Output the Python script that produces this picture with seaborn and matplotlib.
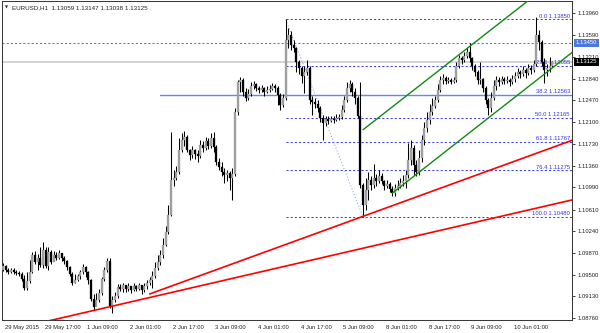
import numpy as np
import pandas as pd
import matplotlib
matplotlib.use("Agg")
import matplotlib.pyplot as plt
import matplotlib.transforms as mtransforms
import seaborn as sns

# ---------------- data ----------------
symbol_header = "EURUSD,H1  1.13059 1.13147 1.13038 1.13125"
first_open = 1.0958
closes = [
    1.0964, 1.0958, 1.0954, 1.0958, 1.0954, 1.0953, 1.0951, 1.0942, 1.0927, 1.0939,
    1.0954, 1.0983, 1.0971, 1.0978, 1.0966, 1.0992, 1.0964, 1.0988, 1.0971, 1.0983,
    1.0978, 1.0987, 1.0978, 1.0973, 1.0963, 1.0951, 1.0935, 1.0941, 1.0947, 1.0954,
    1.0963, 1.0954, 1.0941, 1.0908, 1.0894, 1.0907, 1.0918, 1.0942, 1.0958, 1.0973,
    1.0896, 1.0907, 1.0913, 1.0929, 1.0925, 1.0932, 1.0925, 1.0930, 1.0924, 1.0930,
    1.0925, 1.0932, 1.0924, 1.0930, 1.0935, 1.0941, 1.0947, 1.0961, 1.0971, 1.0983,
    1.1000, 1.1022, 1.1051, 1.1111, 1.1115, 1.1125, 1.1162, 1.1179, 1.1184, 1.1162,
    1.1154, 1.1162, 1.1155, 1.1152, 1.1171, 1.1166, 1.1178, 1.1169, 1.1183, 1.1168,
    1.1142, 1.1133, 1.1125, 1.1120, 1.1123, 1.1115, 1.1121, 1.1227, 1.1278, 1.1282,
    1.1261, 1.1251, 1.1258, 1.1271, 1.1275, 1.1268, 1.1265, 1.1268, 1.1261, 1.1265,
    1.1266, 1.1271, 1.1268, 1.1256, 1.1239, 1.1251, 1.1350, 1.1358, 1.1341, 1.1336,
    1.1312, 1.1302, 1.1288, 1.1295, 1.1302, 1.1248, 1.1244, 1.1241, 1.1234, 1.1217,
    1.1208, 1.1215, 1.1212, 1.1215, 1.1213, 1.1217, 1.1219, 1.1230, 1.1248, 1.1268,
    1.1275, 1.1261, 1.1251, 1.1220, 1.1103, 1.1069, 1.1094, 1.1111, 1.1103, 1.1115,
    1.1109, 1.1118, 1.1109, 1.1101, 1.1104, 1.1096, 1.1089, 1.1098, 1.1101, 1.1106,
    1.1109, 1.1120, 1.1145, 1.1166, 1.1137, 1.1125, 1.1149, 1.1179, 1.1200, 1.1213,
    1.1227, 1.1237, 1.1248, 1.1265, 1.1282, 1.1285, 1.1280, 1.1282, 1.1278, 1.1282,
    1.1306, 1.1319, 1.1316, 1.1323, 1.1329, 1.1319, 1.1306, 1.1295, 1.1282, 1.1283,
    1.1268, 1.1248, 1.1234, 1.1251, 1.1271, 1.1282, 1.1278, 1.1283, 1.1280, 1.1282,
    1.1278, 1.1283, 1.1288, 1.1295, 1.1292, 1.1299, 1.1294, 1.1302, 1.1299, 1.1309,
    1.1358, 1.1347, 1.1312, 1.1299, 1.1302, 1.1306, 1.13125,
]
highs = [
    1.0970, 1.0966, 1.0961, 1.0961, 1.0961, 1.0958, 1.0956, 1.0954, 1.0949, 1.0954,
    1.0975, 1.0988, 1.0990, 1.0985, 1.0997, 1.1005, 1.0997, 1.0997, 1.0992, 1.0990,
    1.0988, 1.0992, 1.0987, 1.0981, 1.0975, 1.0964, 1.0954, 1.0951, 1.0951, 1.0958,
    1.0968, 1.0964, 1.0956, 1.0942, 1.0917, 1.0918, 1.0925, 1.0946, 1.0963, 1.0978,
    1.0978, 1.0913, 1.0920, 1.0934, 1.0934, 1.0935, 1.0932, 1.0935, 1.0930, 1.0935,
    1.0932, 1.0935, 1.0932, 1.0935, 1.0941, 1.0946, 1.0956, 1.0971, 1.0983, 1.0992,
    1.1012, 1.1033, 1.1069, 1.1193, 1.1128, 1.1135, 1.1183, 1.1191, 1.1195, 1.1188,
    1.1164, 1.1169, 1.1164, 1.1162, 1.1179, 1.1178, 1.1184, 1.1183, 1.1191, 1.1193,
    1.1171, 1.1149, 1.1142, 1.1132, 1.1128, 1.1126, 1.1132, 1.1234, 1.1282, 1.1287,
    1.1285, 1.1268, 1.1266, 1.1278, 1.1280, 1.1277, 1.1271, 1.1273, 1.1270, 1.1271,
    1.1273, 1.1277, 1.1275, 1.1271, 1.1259, 1.1258, 1.1385, 1.1371, 1.1365, 1.1350,
    1.1338, 1.1316, 1.1306, 1.1306, 1.1316, 1.1306, 1.1254, 1.1251, 1.1248, 1.1237,
    1.1222, 1.1220, 1.1220, 1.1220, 1.1220, 1.1224, 1.1224, 1.1239, 1.1254, 1.1278,
    1.1282, 1.1278, 1.1268, 1.1254, 1.1278, 1.1106, 1.1115, 1.1125, 1.1118, 1.1138,
    1.1121, 1.1128, 1.1123, 1.1111, 1.1111, 1.1108, 1.1101, 1.1104, 1.1111, 1.1115,
    1.1120, 1.1128, 1.1174, 1.1179, 1.1171, 1.1145, 1.1162, 1.1188, 1.1210, 1.1227,
    1.1241, 1.1251, 1.1254, 1.1275, 1.1288, 1.1292, 1.1288, 1.1287, 1.1285, 1.1287,
    1.1312, 1.1324, 1.1323, 1.1329, 1.1336, 1.1345, 1.1321, 1.1309, 1.1299, 1.1312,
    1.1285, 1.1271, 1.1251, 1.1261, 1.1282, 1.1288, 1.1287, 1.1288, 1.1287, 1.1288,
    1.1285, 1.1290, 1.1295, 1.1302, 1.1299, 1.1306, 1.1302, 1.1309, 1.1307, 1.1316,
    1.1389, 1.1367, 1.1350, 1.1319, 1.1309, 1.1321, 1.13147,
]
lows = [
    1.0956, 1.0954, 1.0951, 1.0953, 1.0951, 1.0949, 1.0947, 1.0939, 1.0924, 1.0924,
    1.0935, 1.0953, 1.0968, 1.0958, 1.0963, 1.0961, 1.0961, 1.0958, 1.0968, 1.0973,
    1.0975, 1.0976, 1.0973, 1.0968, 1.0958, 1.0947, 1.0932, 1.0935, 1.0939, 1.0942,
    1.0951, 1.0946, 1.0934, 1.0905, 1.0890, 1.0898, 1.0903, 1.0915, 1.0939, 1.0954,
    1.0893, 1.0884, 1.0903, 1.0910, 1.0922, 1.0920, 1.0920, 1.0922, 1.0918, 1.0922,
    1.0922, 1.0924, 1.0917, 1.0920, 1.0925, 1.0932, 1.0927, 1.0944, 1.0958, 1.0966,
    1.0978, 1.0999, 1.1019, 1.1050, 1.1101, 1.1111, 1.1121, 1.1159, 1.1169, 1.1159,
    1.1145, 1.1149, 1.1147, 1.1142, 1.1149, 1.1159, 1.1162, 1.1164, 1.1166, 1.1159,
    1.1137, 1.1128, 1.1118, 1.1106, 1.1109, 1.1094, 1.1077, 1.1118, 1.1222, 1.1261,
    1.1254, 1.1246, 1.1248, 1.1254, 1.1266, 1.1263, 1.1259, 1.1261, 1.1254, 1.1259,
    1.1261, 1.1265, 1.1261, 1.1239, 1.1230, 1.1236, 1.1248, 1.1336, 1.1333, 1.1329,
    1.1295, 1.1292, 1.1277, 1.1259, 1.1290, 1.1241, 1.1222, 1.1234, 1.1227, 1.1210,
    1.1179, 1.1203, 1.1207, 1.1210, 1.1208, 1.1212, 1.1213, 1.1215, 1.1227, 1.1244,
    1.1261, 1.1254, 1.1241, 1.1217, 1.1098, 1.1048, 1.1060, 1.1077, 1.1094, 1.1098,
    1.1101, 1.1106, 1.1104, 1.1094, 1.1098, 1.1091, 1.1084, 1.1084, 1.1094, 1.1098,
    1.1101, 1.1098, 1.1115, 1.1137, 1.1120, 1.1118, 1.1120, 1.1142, 1.1171, 1.1193,
    1.1207, 1.1222, 1.1234, 1.1244, 1.1261, 1.1275, 1.1275, 1.1277, 1.1275, 1.1277,
    1.1278, 1.1302, 1.1309, 1.1312, 1.1319, 1.1312, 1.1299, 1.1288, 1.1275, 1.1275,
    1.1261, 1.1241, 1.1222, 1.1227, 1.1248, 1.1265, 1.1271, 1.1275, 1.1275, 1.1277,
    1.1271, 1.1275, 1.1278, 1.1285, 1.1285, 1.1288, 1.1285, 1.1290, 1.1292, 1.1295,
    1.1306, 1.1333, 1.1306, 1.1277, 1.1288, 1.1295, 1.13038,
]

time_tick_bars = [0, 15, 31, 47, 63, 79, 95, 111, 127, 143, 159, 175, 191]
time_tick_labels = ["29 May 2015", "29 May 17:00", "1 Jun 09:00", "2 Jun 01:00",
                    "2 Jun 17:00", "3 Jun 09:00", "4 Jun 01:00", "4 Jun 17:00",
                    "5 Jun 09:00", "8 Jun 01:00", "8 Jun 17:00", "9 Jun 09:00",
                    "10 Jun 01:00"]
price_ticks = [1.08760, 1.09130, 1.09500, 1.09870, 1.10240, 1.10610, 1.10990,
               1.11360, 1.11730, 1.12100, 1.12470, 1.12840, 1.13210, 1.13590, 1.13960]

fib_high, fib_low = 1.13850, 1.10480
fib_high_bar, fib_low_bar = 106, 135
fib_levels = [0.0, 23.6, 38.2, 50.0, 61.8, 76.4, 100.0]
hline_price = 1.13450
support_price = 1.12563
support_start_bar = 59
bid_price = 1.13125

red_lower_bars, red_lower_prices = [17, 214], [1.0871, 1.1078]
red_upper_bars, red_upper_prices = [55, 214], [1.0917, 1.1180]
green_lower_bars, green_lower_prices = [146, 214], [1.1089, 1.1331]
green_upper_bars, green_upper_prices = [135, 200], [1.1197, 1.1428]

# ---------------- style ----------------
sns.set_theme(style="white")
plt.rcParams['font.family'] = ['Liberation Sans', 'DejaVu Sans']

W, H = 600, 333
fig = plt.figure(figsize=(W / 100, H / 100), dpi=100)
fig.patch.set_facecolor("white")
ax = fig.add_axes([2 / W, 13 / H, 570 / W, 319 / H])
ax.set_facecolor("white")

n = len(closes)
opens = [first_open] + closes[:-1]
df = pd.DataFrame({"bar": np.arange(n), "open": opens, "high": highs,
                   "low": lows, "close": closes})
df["bottom"] = df[["open", "close"]].min(axis=1)
df["height"] = (df["close"] - df["open"]).abs().clip(lower=0.00005)
bull = df["close"] >= df["open"]

XL = (-0.375, 213.35)
YL = (1.08726, 1.14165)

# horizontal reference lines (behind candles)
ax.axhline(bid_price, color="#cccccc", lw=1.2, zorder=1)
ax.axhline(hline_price, color="#5a6fd8", lw=0.75, ls=(0, (2, 2)), zorder=1)
ax.plot([support_start_bar, XL[1]], [support_price, support_price],
        color="#5f88f2", lw=1.0, zorder=1.5)

rng = fib_high - fib_low
for lvl in fib_levels:
    p = fib_high - rng * lvl / 100.0
    if abs(lvl - 38.2) > 1e-6:
        ax.plot([fib_high_bar, XL[1]], [p, p], color="#3f3ff0", lw=0.75,
                ls=(0, (2, 2)), zorder=1)
    ax.annotate(f"{lvl:.1f} {p:.5f}", xy=(212.6, p), xytext=(0, 0.6),
                textcoords="offset points", ha="right", va="bottom",
                fontsize=4.2, color="#3434e6", zorder=1)
ax.plot([fib_high_bar, fib_low_bar], [fib_high, fib_low], color="#8aa4f0",
        lw=0.75, ls=(0, (1, 2)), zorder=1)

# candles
ax.vlines(df["bar"], df["low"], df["high"], color="black", lw=0.75, zorder=3)
ax.bar(df["bar"][bull], df["height"][bull], bottom=df["bottom"][bull], width=0.8,
       color="#a3a3a3", edgecolor="#8a8a8a", linewidth=0.2, zorder=4)
ax.bar(df["bar"][~bull], df["height"][~bull], bottom=df["bottom"][~bull], width=0.8,
       color="black", edgecolor="black", linewidth=0.2, zorder=4)

# trend lines
lines = pd.DataFrame({
    "bar": red_lower_bars + red_upper_bars + green_lower_bars + green_upper_bars,
    "price": red_lower_prices + red_upper_prices + green_lower_prices + green_upper_prices,
    "line": ["r1"] * 2 + ["r2"] * 2 + ["g1"] * 2 + ["g2"] * 2,
})
sns.lineplot(data=lines, x="bar", y="price", hue="line",
             palette={"r1": "#ff0000", "r2": "#ff0000", "g1": "#108a10", "g2": "#108a10"},
             size="line", sizes={"r1": 1.2, "r2": 1.2, "g1": 1.0, "g2": 1.0},
             legend=False, ax=ax, zorder=5, estimator=None, sort=False)

ax.set_xlim(*XL)
ax.set_ylim(*YL)
ax.set_xlabel("")
ax.set_ylabel("")

# axes frame
for s in ax.spines.values():
    s.set_color("#3a3a3a")
    s.set_linewidth(0.75)

# right price axis
ax.yaxis.tick_right()
ax.set_yticks(price_ticks)
ax.set_yticklabels([f"{v:.5f}" for v in price_ticks])
ax.tick_params(axis="y", direction="out", length=2.5, width=0.6, pad=1.5,
               labelsize=4.2, colors="#222222")

# bottom time axis
ax.set_xticks(time_tick_bars)
ax.set_xticklabels(time_tick_labels)
ax.tick_params(axis="x", direction="out", length=2.5, width=0.6, pad=1.0,
               labelsize=4.2, colors="#222222")
offset = mtransforms.ScaledTranslation(1.5 / 100, 0, fig.dpi_scale_trans)
for lab in ax.get_xticklabels():
    lab.set_ha("left")
    lab.set_transform(lab.get_transform() + offset)

# highlighted price boxes on the right axis
ytr = ax.get_yaxis_transform()
ax.text(1.006, hline_price, f"{hline_price:.5f}", transform=ytr, ha="left",
        va="center", fontsize=4.2, color="white", zorder=10, clip_on=False,
        bbox=dict(boxstyle="square,pad=0.3", facecolor="#4a78dc", edgecolor="none"))
ax.text(1.006, bid_price, f"{bid_price:.5f}", transform=ytr, ha="left",
        va="center", fontsize=4.2, color="white", zorder=10, clip_on=False,
        bbox=dict(boxstyle="square,pad=0.3", facecolor="black", edgecolor="none"))

# header
fig.text(4.5 / W, 1 - 7.5 / H, "\u25BC", fontsize=2.8, color="#222222",
         va="center", ha="left", family="DejaVu Sans")
fig.text(12 / W, 1 - 7.5 / H, symbol_header, fontsize=4.5, color="#222222",
         va="center", ha="left")

fig.savefig("out.png", dpi=100, facecolor="white")
